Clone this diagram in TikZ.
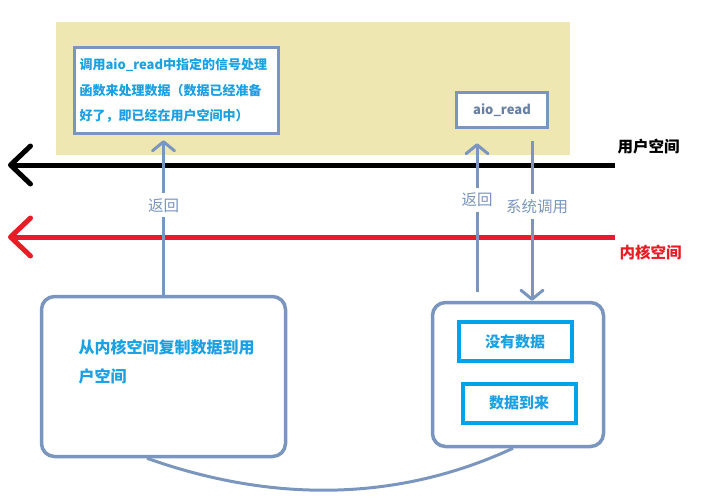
\documentclass[tikz,border=0pt]{standalone}
\usepackage{fontspec}
\setmainfont{Noto Sans CJK SC}
\usetikzlibrary{arrows.meta}
\definecolor{flowblue}{RGB}{122, 150, 190}
\definecolor{textblue}{RGB}{27, 161, 226}
\definecolor{boxblue}{RGB}{0, 162, 232}
\definecolor{paleyellow}{RGB}{238, 231, 178}
\definecolor{kernelred}{RGB}{232, 28, 36}
\begin{document}
\begin{tikzpicture}[x=1pt, y=-1pt,
    flow/.style={flowblue, line width=3pt, -{Straight Barb[length=9pt, width=22pt, round]}},
    space/.style={line width=5pt, -{Straight Barb[length=20pt, width=38pt, round]}},
    note/.style={fill=white, text=flowblue, font=\fontsize{15.5}{15.5}\selectfont, inner xsep=1pt, inner ysep=5pt},
    frame/.style={draw=flowblue, line width=3.5pt, fill=white},
    state/.style={draw=boxblue, line width=4pt, fill=white, text=textblue, font=\bfseries\fontsize{15}{15}\selectfont, minimum width=113pt, minimum height=39pt}]
    \useasboundingbox (0, 0) rectangle (706, 501);

    % User space background
    \fill[paleyellow] (56, 22) rectangle (570, 155);

    % Handler and aio_read
    \node[frame, minimum width=204pt, minimum height=86pt, text width=194pt, align=left, inner sep=5pt, text=textblue, font=\bfseries\fontsize{13}{25.5}\selectfont] (handler) at (176.5, 90.5) {调用aio\_read中指定的信号处理\\函数来处理数据（数据已经准备\\好了，即已经在用户空间中）};
    \node[frame, minimum width=91pt, minimum height=35pt, text=flowblue!85!black, font=\bfseries\fontsize{13}{13}\selectfont] (aioread) at (502, 110) {aio\_read};

    % Space boundaries
    \coordinate (userend) at (615, 165);
    \coordinate (userstart) at (8, 165);
    \draw[space, black] (userend) -- (userstart);
    \node[anchor=west, font=\bfseries\fontsize{15.5}{15.5}\selectfont] (userlabel) at (614, 147) {用户空间};

    \coordinate (kernelend) at (615, 237);
    \coordinate (kernelstart) at (8, 237);
    \draw[space, kernelred] (kernelend) -- (kernelstart);
    \node[anchor=west, text=kernelred, font=\bfseries\fontsize{15.5}{15.5}\selectfont] (kernellabel) at (616, 253) {内核空间};

    % Kernel side
    \node[frame, rounded corners=13pt, minimum width=244pt, minimum height=160pt] (copy) at (163.5, 376.5) {};
    \node[anchor=west, align=left, text=textblue, font=\bfseries\fontsize{16}{29}\selectfont] (copytext) at (75, 361.5) {从内核空间复制数据到用\\户空间};

    \node[frame, rounded corners=13pt, minimum width=171pt, minimum height=144pt] (wait) at (518, 374.5) {};
    \node[state] (nodata) at (515, 341.5) {没有数据};
    \node[state] (arrive) at (519, 403) {数据到来};

    % Calls and returns
    \draw[flow, shorten >=5pt] (copy.north) -- (copy.north |- handler.south) node[note, pos=0.56] {返回};
    \draw[flow] ([xshift=-41pt, yshift=9pt]wait.north) -- ([xshift=-25pt, yshift=-14pt]aioread.south) node[note, pos=0.62] {返回};
    \draw[flow] ([xshift=30pt, yshift=-12pt]aioread.south) -- ([xshift=14pt]wait.north) node[note, pos=0.41, xshift=5pt] {系统调用};

    % Back to the copy
    \draw[flowblue, line width=3pt] ([xshift=-16.5pt]copy.south) .. controls (250, 495) and (380, 510) .. ([xshift=-5pt]wait.south);
\end{tikzpicture}
\end{document}
